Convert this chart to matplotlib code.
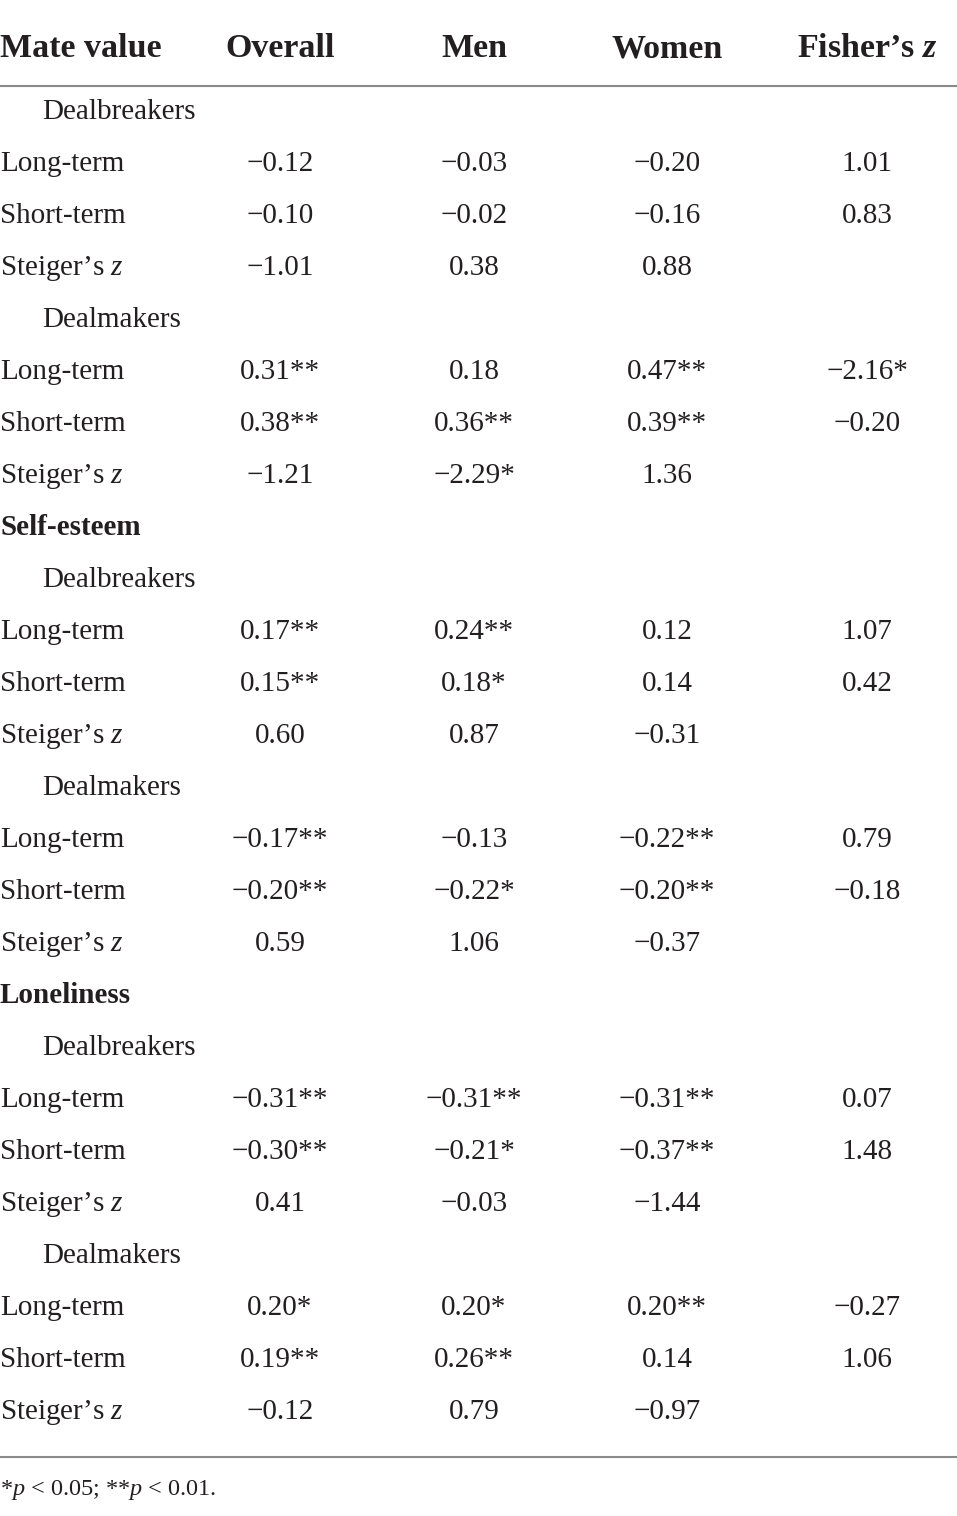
import numpy as np
import matplotlib
import matplotlib.pyplot as plt

matplotlib.use("Agg")

plt.rcParams["font.family"] = ["Liberation Serif", "DejaVu Serif"]
plt.rcParams["mathtext.fontset"] = "custom"
plt.rcParams["mathtext.rm"] = "Liberation Serif"
plt.rcParams["mathtext.it"] = "Liberation Serif:italic"
plt.rcParams["mathtext.bf"] = "Liberation Serif:bold"
plt.rcParams["mathtext.bfit"] = "Liberation Serif:italic:bold"
plt.rcParams["text.color"] = "#231f20"

columns = ["Overall", "Men", "Women", r"Fisher’s $\mathbfit{z}$"]
sections = ["Mate value", "Self-esteem", "Loneliness"]
groups = ["Dealbreakers", "Dealmakers"]
measures = ["Long-term", "Short-term", r"Steiger’s $z$"]

# 18 data rows: section x group x measure
overall = [-0.12, -0.10, -1.01, 0.31, 0.38, -1.21,
           0.17, 0.15, 0.60, -0.17, -0.20, 0.59,
           -0.31, -0.30, 0.41, 0.20, 0.19, -0.12]
overall_sig = ["", "", "", "**", "**", "",
               "**", "**", "", "**", "**", "",
               "**", "**", "", "*", "**", ""]
men = [-0.03, -0.02, 0.38, 0.18, 0.36, -2.29,
       0.24, 0.18, 0.87, -0.13, -0.22, 1.06,
       -0.31, -0.21, -0.03, 0.20, 0.26, 0.79]
men_sig = ["", "", "", "", "**", "*",
           "**", "*", "", "", "*", "",
           "**", "*", "", "*", "**", ""]
women = [-0.20, -0.16, 0.88, 0.47, 0.39, 1.36,
         0.12, 0.14, -0.31, -0.22, -0.20, -0.37,
         -0.31, -0.37, -1.44, 0.20, 0.14, -0.97]
women_sig = ["", "", "", "**", "**", "",
             "", "", "", "**", "**", "",
             "**", "**", "", "**", "", ""]
fisher = [1.01, 0.83, None, -2.16, -0.20, None,
          1.07, 0.42, None, 0.79, -0.18, None,
          0.07, 1.48, None, -0.27, 1.06, None]
fisher_sig = ["", "", "", "*", "", "",
              "", "", "", "", "", "",
              "", "", "", "", "", ""]

footnote = r"*$p$ < 0.05; **$p$ < 0.01."


def fmt(value, sig):
    if value is None:
        return ""
    sign = "\u2212" if value < 0 else ""
    return f"{sign}{abs(value):.2f}{sig}"


W, H = 957, 1516
fig = plt.figure(figsize=(W / 100, H / 100), dpi=100)
ax = fig.add_axes([0, 0, 1, 1])
ax.set_xlim(0, W)
ax.set_ylim(H, 0)
ax.axis("off")

col_x = [280, 474, 667, 867]
first_row_y = 111
pitch = 52
base_off = 8
body_size = 21
head_size = 24.5

# header
ax.text(0, 57, sections[0], fontsize=head_size, fontweight="bold",
        ha="left", va="baseline")
for x, name in zip(col_x, columns):
    ax.text(x, 57, name, fontsize=head_size, fontweight="bold",
            ha="center", va="baseline")
ax.plot([0, W], [86, 86], color="#8a8a8a", lw=1.5)

cols = [(overall, overall_sig), (men, men_sig),
        (women, women_sig), (fisher, fisher_sig)]

row = 0
k = 0
for si, section in enumerate(sections):
    if si > 0:
        y = first_row_y + pitch * row
        ax.text(0, y + base_off, section, fontsize=body_size,
                fontweight="bold", ha="left", va="baseline")
        row += 1
    for group in groups:
        y = first_row_y + pitch * row
        ax.text(42, y + base_off, group, fontsize=body_size,
                ha="left", va="baseline")
        row += 1
        for measure in measures:
            y = first_row_y + pitch * row
            ax.text(0, y + base_off, measure, fontsize=body_size,
                    ha="left", va="baseline")
            for x, (vals, sigs) in zip(col_x, cols):
                ax.text(x, y + base_off, fmt(vals[k], sigs[k]),
                        fontsize=body_size, ha="center", va="baseline")
            row += 1
            k += 1

ax.plot([0, W], [1457, 1457], color="#8a8a8a", lw=1.5)
ax.text(0, 1495, footnote, fontsize=17.5, ha="left", va="baseline")

plt.savefig("out.png", dpi=100)
plt.close()
